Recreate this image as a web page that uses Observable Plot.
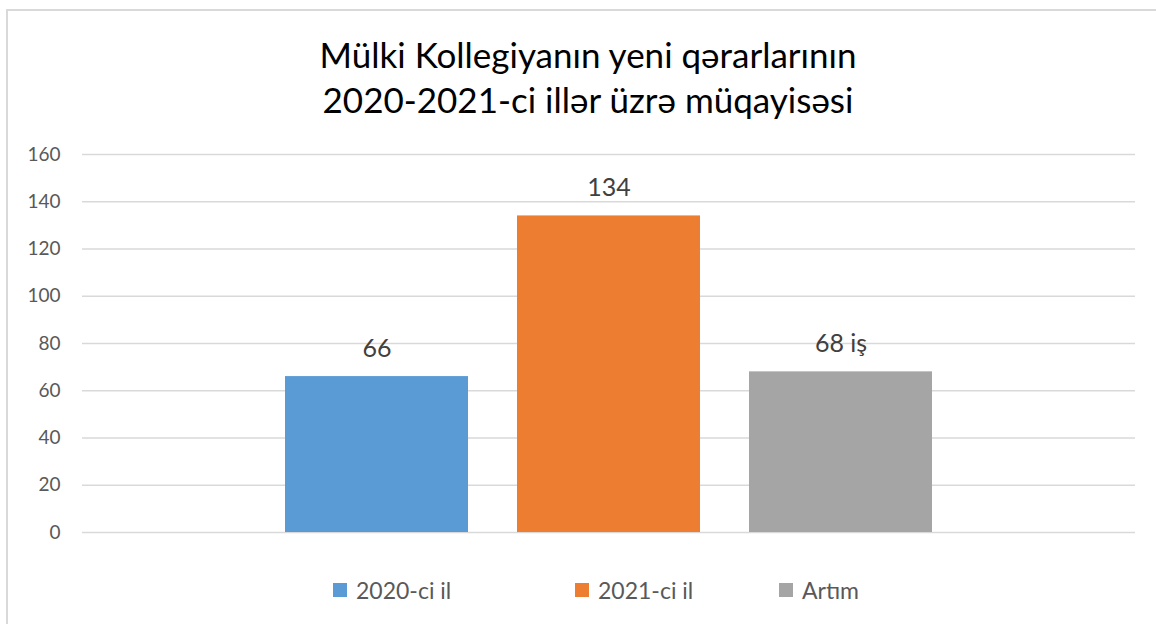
<!DOCTYPE html>
<html>
<head>
<meta charset="utf-8">
<script src="https://cdn.jsdelivr.net/npm/d3@7"></script>
<script src="https://cdn.jsdelivr.net/npm/@observablehq/plot@0.6"></script>
<style>
  html, body { margin: 0; padding: 0; background: #fff; }
  body { width: 1156px; height: 624px; position: relative; overflow: hidden; font-family: Lato, "Noto Sans", sans-serif; }
  #frame { position: absolute; left: 6px; top: 9px; width: 1300px; height: 800px; border: 2px solid #d9d9d9; box-sizing: border-box; }
  #title { position: absolute; left: 0; width: 1176px; top: 32px; text-align: center; font-size: 35px; line-height: 45px; color: #000; }
  #chart { position: absolute; left: 0; top: 130px; }
  #legend { position: absolute; top: 576px; left: 0; height: 28px; }
  .item { position: absolute; top: 0; display: flex; align-items: center; height: 28px; font-size: 23px; color: #595959; white-space: nowrap; }
  .sw { width: 14px; height: 14px; margin-right: 9px; }
</style>
</head>
<body>
<div id="frame"></div>
<div id="title"></div>
<div id="chart"></div>
<div id="legend"></div>
<script>
const titleLines = ["Mülki Kollegiyanın yeni qərarlarının", "2020-2021-ci illər üzrə müqayisəsi"];
const series = ["2020-ci il", "2021-ci il", "Artım"];
const values = [66, 134, 68];
const valueLabels = ["66", "134", "68 iş"];
const colors = ["#5b9bd5", "#ed7d31", "#a5a5a5"];
const yTicks = [0, 20, 40, 60, 80, 100, 120, 140, 160];

const data = series.map((s, i) => ({series: s, value: values[i], label: valueLabels[i]}));

document.getElementById("title").innerHTML = titleLines.map(t => `<div>${t}</div>`).join("");

const chart = Plot.plot({
  width: 1156,
  height: 420,
  marginLeft: 82,
  marginRight: 21,
  marginTop: 24,
  marginBottom: 18,
  style: {fontFamily: "Lato, 'Noto Sans', sans-serif", background: "transparent"},
  x: {domain: series, paddingInner: 0.21, paddingOuter: 0.865, axis: null},
  y: {domain: [0, 160], ticks: yTicks},
  color: {domain: series, range: colors},
  marks: [
    Plot.gridY(yTicks, {stroke: "#d9d9d9", strokeOpacity: 1, strokeWidth: 1.5}),
    Plot.axisY(yTicks, {tickSize: 0, tickPadding: 22, label: null, fontSize: 19, color: "#595959", fill: "#595959"}),
    Plot.barY(data, {x: "series", y: "value", fill: "series"}),
    Plot.text(data, {x: "series", y: "value", text: "label", lineAnchor: "bottom", dy: -20, fontSize: 25, fill: "#404040"})
  ]
});
document.getElementById("chart").appendChild(chart);

const legendX = [333, 575, 779];
const legend = document.getElementById("legend");
series.forEach((s, i) => {
  const item = document.createElement("div");
  item.className = "item";
  item.style.left = legendX[i] + "px";
  item.innerHTML = `<div class="sw" style="background:${colors[i]}"></div><span>${s}</span>`;
  legend.appendChild(item);
});
</script>
</body>
</html>
